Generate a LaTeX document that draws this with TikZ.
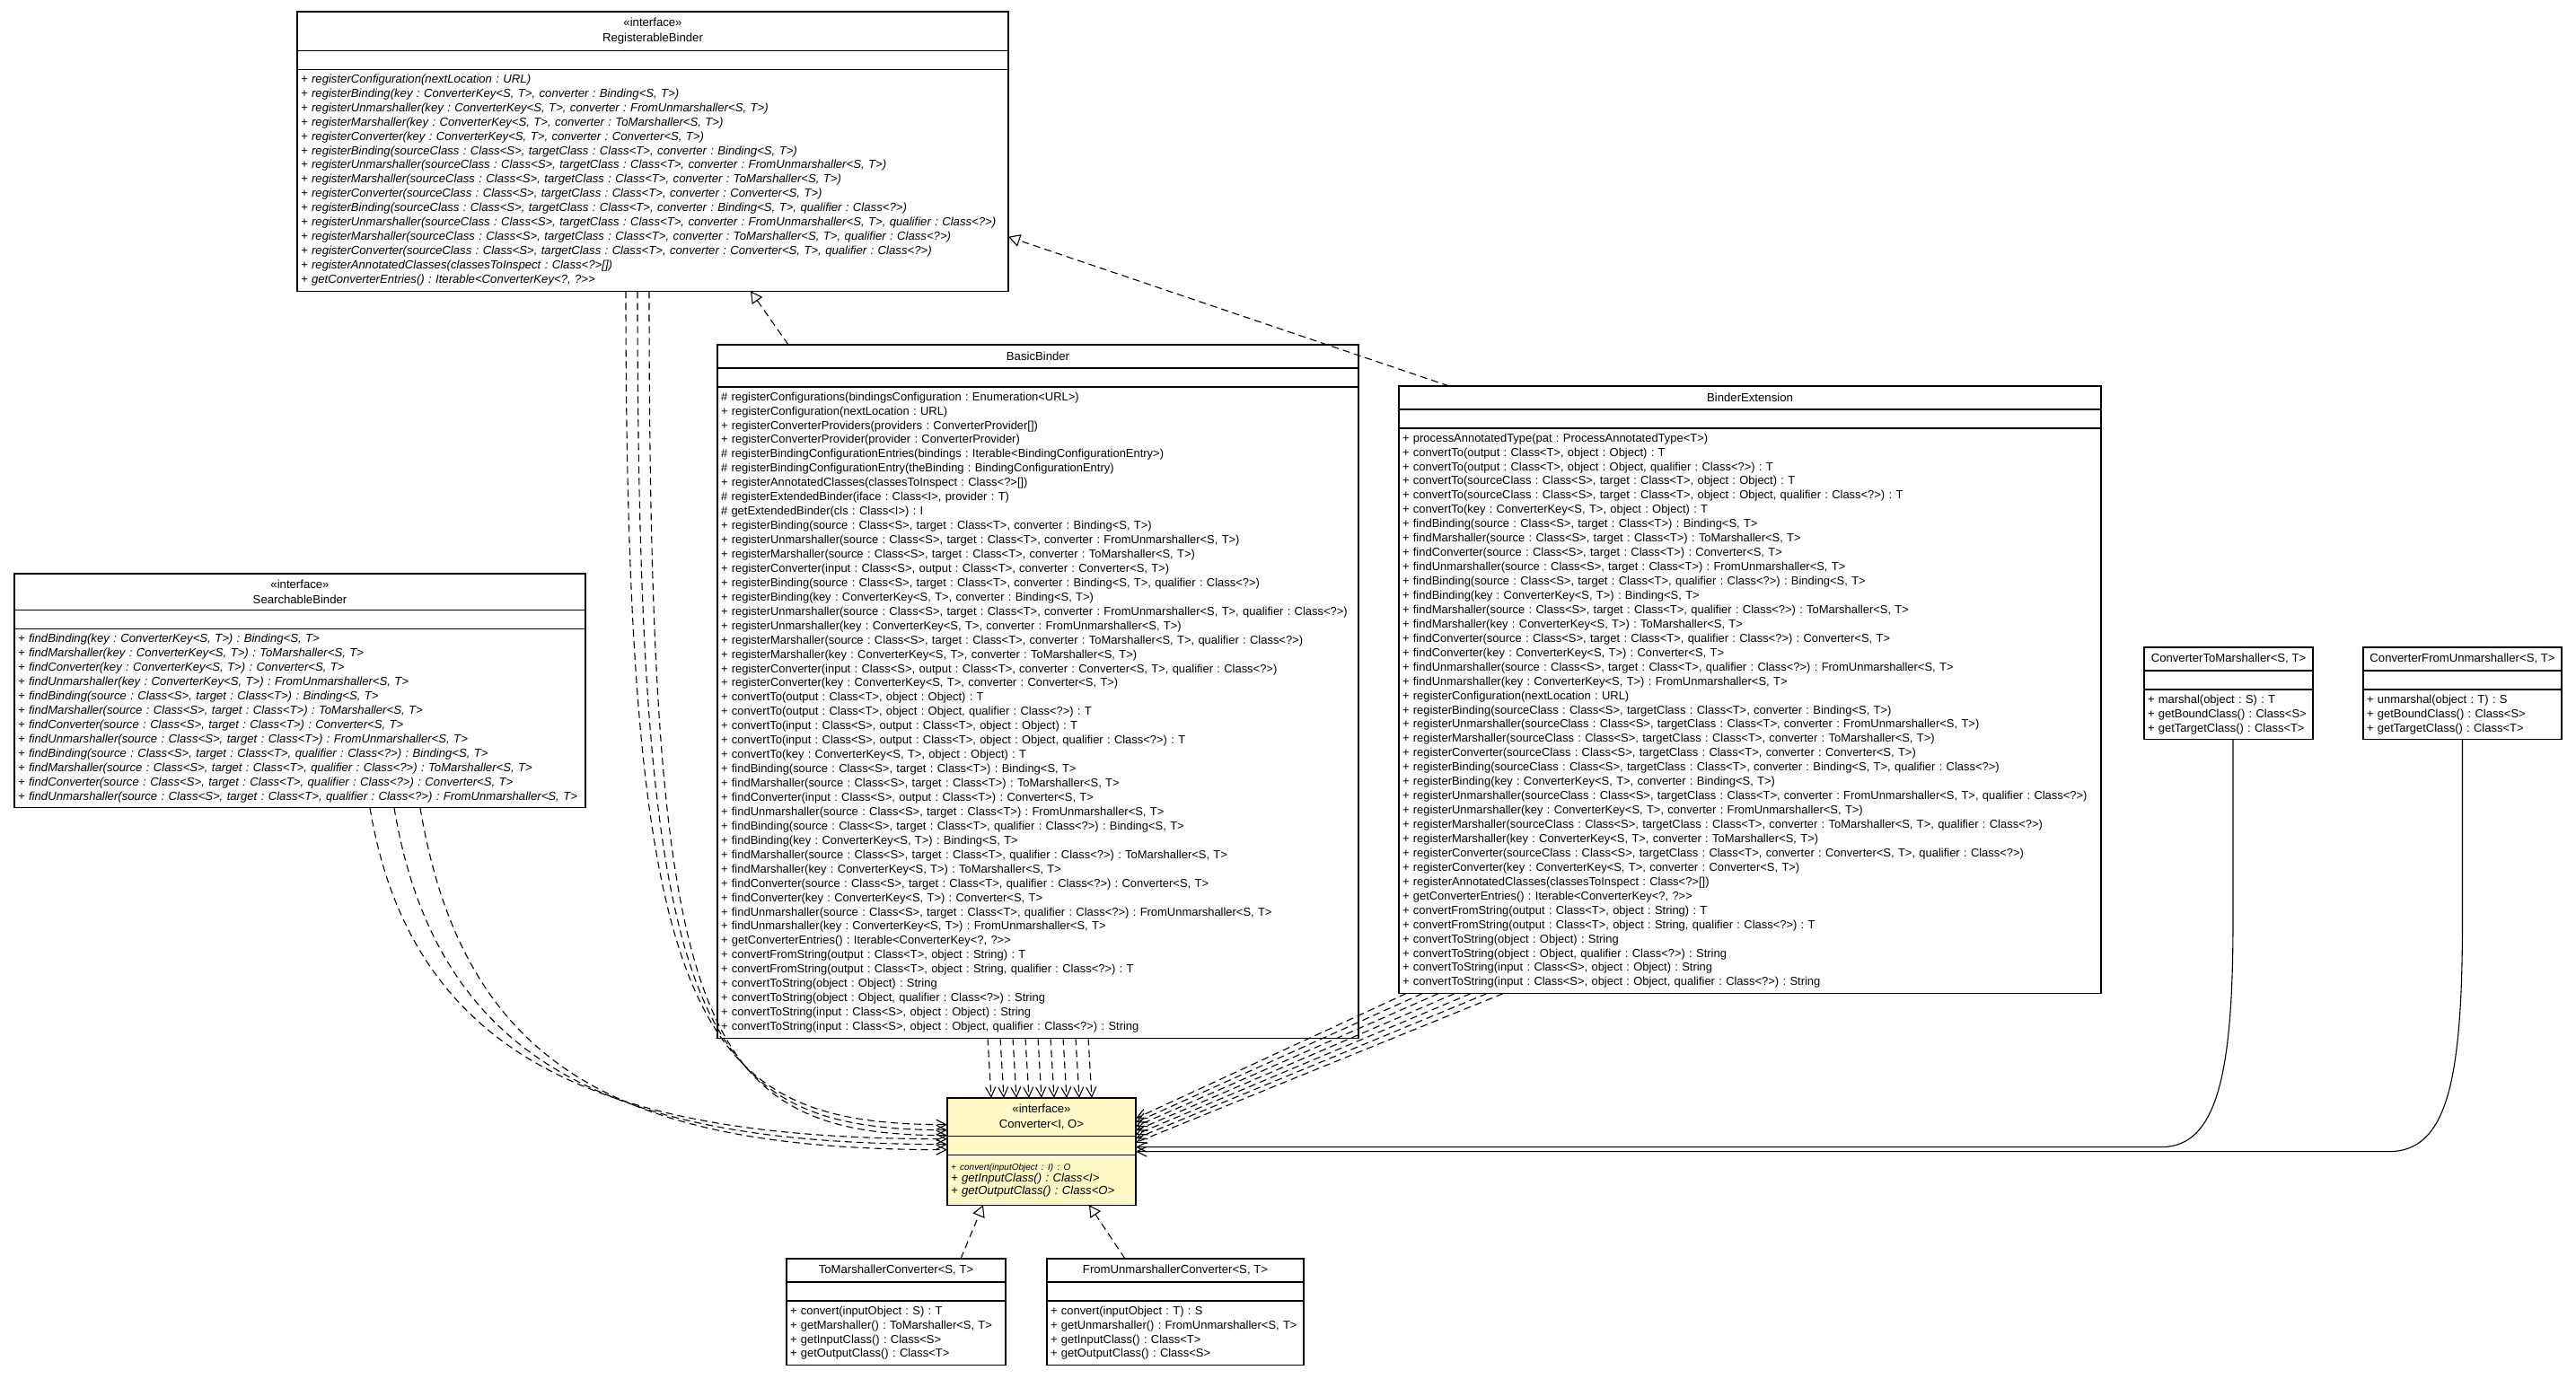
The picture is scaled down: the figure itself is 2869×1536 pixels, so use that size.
\documentclass[tikz,border=0pt]{standalone}
\usepackage{fontspec}
\setmainfont{Liberation Sans}
\usetikzlibrary{arrows.meta,positioning,calc}
\definecolor{convfill}{HTML}{FFF9C8}
\frenchspacing
\tikzset{
  classfill/.style={fill=white},
  classbox/.style={draw,line width=1.1bp,outer sep=0pt,classfill},
  classhead/.style={classbox,align=center,inner ysep=7bp,minimum height=26bp,
                    font=\fontsize{13.2}{17}\selectfont},
  classattr/.style={classbox,minimum height=21bp,inner sep=0pt},
  classops/.style={classbox,align=left,inner xsep=4bp,inner ysep=4bp,
                   font=\fontsize{13}{16}\selectfont},
  depend/.style={line width=1.1bp,dash pattern=on 8bp off 5bp,
                 -{Straight Barb[length=11bp,width=11bp]}},
  realize/.style={line width=1.1bp,dash pattern=on 8bp off 5bp,
                  -{Triangle[open,length=13bp,width=14bp]}},
  assoc/.style={line width=1.1bp,-{Straight Barb[length=11bp,width=11bp]}}
}
% class box: name, corner, width, head text, operations
\newcommand{\umlclass}[6][]{%
  \pgfmathsetlengthmacro{\opswidth}{#4-8bp}%
  \node[classhead,minimum width=#4,anchor=north west] (#2) at #3 {#5};
  \node[classattr,minimum width=#4,below=0pt of #2] (#2 attr) {};
  \node[classops,text width=\opswidth,below=0pt of #2 attr,#1] (#2 ops)
       {\begin{tabular}{@{}l@{}}#6\end{tabular}};
}

\begin{document}
\begin{tikzpicture}[x=1bp,y=-1bp]
  \fill[white] (0,0) rectangle (2869,1536);
  \useasboundingbox (0,0) rectangle (2869,1536);

  % Interfaces
  \umlclass[font=\fontsize{13.2}{16}\selectfont\itshape]{rb}{(331,13)}{792bp}
    {«interface»\\RegisterableBinder}
    {+ registerConfiguration(nextLocation : URL)\\
     + registerBinding(key : ConverterKey<S, T>, converter : Binding<S, T>)\\
     + registerUnmarshaller(key : ConverterKey<S, T>, converter : FromUnmarshaller<S, T>)\\
     + registerMarshaller(key : ConverterKey<S, T>, converter : ToMarshaller<S, T>)\\
     + registerConverter(key : ConverterKey<S, T>, converter : Converter<S, T>)\\
     + registerBinding(sourceClass : Class<S>, targetClass : Class<T>, converter : Binding<S, T>)\\
     + registerUnmarshaller(sourceClass : Class<S>, targetClass : Class<T>, converter : FromUnmarshaller<S, T>)\\
     + registerMarshaller(sourceClass : Class<S>, targetClass : Class<T>, converter : ToMarshaller<S, T>)\\
     + registerConverter(sourceClass : Class<S>, targetClass : Class<T>, converter : Converter<S, T>)\\
     + registerBinding(sourceClass : Class<S>, targetClass : Class<T>, converter : Binding<S, T>, qualifier : Class<?>)\\
     + registerUnmarshaller(sourceClass : Class<S>, targetClass : Class<T>, converter : FromUnmarshaller<S, T>, qualifier : Class<?>)\\
     + registerMarshaller(sourceClass : Class<S>, targetClass : Class<T>, converter : ToMarshaller<S, T>, qualifier : Class<?>)\\
     + registerConverter(sourceClass : Class<S>, targetClass : Class<T>, converter : Converter<S, T>, qualifier : Class<?>)\\
     + registerAnnotatedClasses(classesToInspect : Class<?>[])\\
     + getConverterEntries() : Iterable<ConverterKey<?, ?>{}>}

  \umlclass[font=\fontsize{13.2}{16}\selectfont\itshape]{sb}{(16,639)}{636bp}
    {«interface»\\SearchableBinder}
    {+ findBinding(key : ConverterKey<S, T>) : Binding<S, T>\\
     + findMarshaller(key : ConverterKey<S, T>) : ToMarshaller<S, T>\\
     + findConverter(key : ConverterKey<S, T>) : Converter<S, T>\\
     + findUnmarshaller(key : ConverterKey<S, T>) : FromUnmarshaller<S, T>\\
     + findBinding(source : Class<S>, target : Class<T>) : Binding<S, T>\\
     + findMarshaller(source : Class<S>, target : Class<T>) : ToMarshaller<S, T>\\
     + findConverter(source : Class<S>, target : Class<T>) : Converter<S, T>\\
     + findUnmarshaller(source : Class<S>, target : Class<T>) : FromUnmarshaller<S, T>\\
     + findBinding(source : Class<S>, target : Class<T>, qualifier : Class<?>) : Binding<S, T>\\
     + findMarshaller(source : Class<S>, target : Class<T>, qualifier : Class<?>) : ToMarshaller<S, T>\\
     + findConverter(source : Class<S>, target : Class<T>, qualifier : Class<?>) : Converter<S, T>\\
     + findUnmarshaller(source : Class<S>, target : Class<T>, qualifier : Class<?>) : FromUnmarshaller<S, T>}

  % Binder classes
  \umlclass{bb}{(799,384)}{714bp}{BasicBinder}
    {\# registerConfigurations(bindingsConfiguration : Enumeration<URL>)\\
     + registerConfiguration(nextLocation : URL)\\
     + registerConverterProviders(providers : ConverterProvider[])\\
     + registerConverterProvider(provider : ConverterProvider)\\
     \# registerBindingConfigurationEntries(bindings : Iterable<BindingConfigurationEntry>)\\
     \# registerBindingConfigurationEntry(theBinding : BindingConfigurationEntry)\\
     + registerAnnotatedClasses(classesToInspect : Class<?>[])\\
     \# registerExtendedBinder(iface : Class<I>, provider : T)\\
     \# getExtendedBinder(cls : Class<I>) : I\\
     + registerBinding(source : Class<S>, target : Class<T>, converter : Binding<S, T>)\\
     + registerUnmarshaller(source : Class<S>, target : Class<T>, converter : FromUnmarshaller<S, T>)\\
     + registerMarshaller(source : Class<S>, target : Class<T>, converter : ToMarshaller<S, T>)\\
     + registerConverter(input : Class<S>, output : Class<T>, converter : Converter<S, T>)\\
     + registerBinding(source : Class<S>, target : Class<T>, converter : Binding<S, T>, qualifier : Class<?>)\\
     + registerBinding(key : ConverterKey<S, T>, converter : Binding<S, T>)\\
     + registerUnmarshaller(source : Class<S>, target : Class<T>, converter : FromUnmarshaller<S, T>, qualifier : Class<?>)\\
     + registerUnmarshaller(key : ConverterKey<S, T>, converter : FromUnmarshaller<S, T>)\\
     + registerMarshaller(source : Class<S>, target : Class<T>, converter : ToMarshaller<S, T>, qualifier : Class<?>)\\
     + registerMarshaller(key : ConverterKey<S, T>, converter : ToMarshaller<S, T>)\\
     + registerConverter(input : Class<S>, output : Class<T>, converter : Converter<S, T>, qualifier : Class<?>)\\
     + registerConverter(key : ConverterKey<S, T>, converter : Converter<S, T>)\\
     + convertTo(output : Class<T>, object : Object) : T\\
     + convertTo(output : Class<T>, object : Object, qualifier : Class<?>) : T\\
     + convertTo(input : Class<S>, output : Class<T>, object : Object) : T\\
     + convertTo(input : Class<S>, output : Class<T>, object : Object, qualifier : Class<?>) : T\\
     + convertTo(key : ConverterKey<S, T>, object : Object) : T\\
     + findBinding(source : Class<S>, target : Class<T>) : Binding<S, T>\\
     + findMarshaller(source : Class<S>, target : Class<T>) : ToMarshaller<S, T>\\
     + findConverter(input : Class<S>, output : Class<T>) : Converter<S, T>\\
     + findUnmarshaller(source : Class<S>, target : Class<T>) : FromUnmarshaller<S, T>\\
     + findBinding(source : Class<S>, target : Class<T>, qualifier : Class<?>) : Binding<S, T>\\
     + findBinding(key : ConverterKey<S, T>) : Binding<S, T>\\
     + findMarshaller(source : Class<S>, target : Class<T>, qualifier : Class<?>) : ToMarshaller<S, T>\\
     + findMarshaller(key : ConverterKey<S, T>) : ToMarshaller<S, T>\\
     + findConverter(source : Class<S>, target : Class<T>, qualifier : Class<?>) : Converter<S, T>\\
     + findConverter(key : ConverterKey<S, T>) : Converter<S, T>\\
     + findUnmarshaller(source : Class<S>, target : Class<T>, qualifier : Class<?>) : FromUnmarshaller<S, T>\\
     + findUnmarshaller(key : ConverterKey<S, T>) : FromUnmarshaller<S, T>\\
     + getConverterEntries() : Iterable<ConverterKey<?, ?>{}>\\
     + convertFromString(output : Class<T>, object : String) : T\\
     + convertFromString(output : Class<T>, object : String, qualifier : Class<?>) : T\\
     + convertToString(object : Object) : String\\
     + convertToString(object : Object, qualifier : Class<?>) : String\\
     + convertToString(input : Class<S>, object : Object) : String\\
     + convertToString(input : Class<S>, object : Object, qualifier : Class<?>) : String}

  \umlclass{be}{(1558,430)}{782bp}{BinderExtension}
    {+ processAnnotatedType(pat : ProcessAnnotatedType<T>)\\
     + convertTo(output : Class<T>, object : Object) : T\\
     + convertTo(output : Class<T>, object : Object, qualifier : Class<?>) : T\\
     + convertTo(sourceClass : Class<S>, target : Class<T>, object : Object) : T\\
     + convertTo(sourceClass : Class<S>, target : Class<T>, object : Object, qualifier : Class<?>) : T\\
     + convertTo(key : ConverterKey<S, T>, object : Object) : T\\
     + findBinding(source : Class<S>, target : Class<T>) : Binding<S, T>\\
     + findMarshaller(source : Class<S>, target : Class<T>) : ToMarshaller<S, T>\\
     + findConverter(source : Class<S>, target : Class<T>) : Converter<S, T>\\
     + findUnmarshaller(source : Class<S>, target : Class<T>) : FromUnmarshaller<S, T>\\
     + findBinding(source : Class<S>, target : Class<T>, qualifier : Class<?>) : Binding<S, T>\\
     + findBinding(key : ConverterKey<S, T>) : Binding<S, T>\\
     + findMarshaller(source : Class<S>, target : Class<T>, qualifier : Class<?>) : ToMarshaller<S, T>\\
     + findMarshaller(key : ConverterKey<S, T>) : ToMarshaller<S, T>\\
     + findConverter(source : Class<S>, target : Class<T>, qualifier : Class<?>) : Converter<S, T>\\
     + findConverter(key : ConverterKey<S, T>) : Converter<S, T>\\
     + findUnmarshaller(source : Class<S>, target : Class<T>, qualifier : Class<?>) : FromUnmarshaller<S, T>\\
     + findUnmarshaller(key : ConverterKey<S, T>) : FromUnmarshaller<S, T>\\
     + registerConfiguration(nextLocation : URL)\\
     + registerBinding(sourceClass : Class<S>, targetClass : Class<T>, converter : Binding<S, T>)\\
     + registerUnmarshaller(sourceClass : Class<S>, targetClass : Class<T>, converter : FromUnmarshaller<S, T>)\\
     + registerMarshaller(sourceClass : Class<S>, targetClass : Class<T>, converter : ToMarshaller<S, T>)\\
     + registerConverter(sourceClass : Class<S>, targetClass : Class<T>, converter : Converter<S, T>)\\
     + registerBinding(sourceClass : Class<S>, targetClass : Class<T>, converter : Binding<S, T>, qualifier : Class<?>)\\
     + registerBinding(key : ConverterKey<S, T>, converter : Binding<S, T>)\\
     + registerUnmarshaller(sourceClass : Class<S>, targetClass : Class<T>, converter : FromUnmarshaller<S, T>, qualifier : Class<?>)\\
     + registerUnmarshaller(key : ConverterKey<S, T>, converter : FromUnmarshaller<S, T>)\\
     + registerMarshaller(sourceClass : Class<S>, targetClass : Class<T>, converter : ToMarshaller<S, T>, qualifier : Class<?>)\\
     + registerMarshaller(key : ConverterKey<S, T>, converter : ToMarshaller<S, T>)\\
     + registerConverter(sourceClass : Class<S>, targetClass : Class<T>, converter : Converter<S, T>, qualifier : Class<?>)\\
     + registerConverter(key : ConverterKey<S, T>, converter : Converter<S, T>)\\
     + registerAnnotatedClasses(classesToInspect : Class<?>[])\\
     + getConverterEntries() : Iterable<ConverterKey<?, ?>{}>\\
     + convertFromString(output : Class<T>, object : String) : T\\
     + convertFromString(output : Class<T>, object : String, qualifier : Class<?>) : T\\
     + convertToString(object : Object) : String\\
     + convertToString(object : Object, qualifier : Class<?>) : String\\
     + convertToString(input : Class<S>, object : Object) : String\\
     + convertToString(input : Class<S>, object : Object, qualifier : Class<?>) : String}

  % Marshaller adapters
  \umlclass{ctm}{(2388,721)}{188bp}{ConverterToMarshaller<S, T>}
    {+ marshal(object : S) : T\\
     + getBoundClass() : Class<S>\\
     + getTargetClass() : Class<T>}
  \umlclass{cfu}{(2632,721)}{221bp}{ConverterFromUnmarshaller<S, T>}
    {+ unmarshal(object : T) : S\\
     + getBoundClass() : Class<S>\\
     + getTargetClass() : Class<T>}

  % Converter interface
  \begin{scope}[classfill/.style={fill=convfill}]
    \umlclass[font=\fontsize{13.2}{14}\selectfont\itshape,minimum height=56bp]{conv}{(1055,1223)}{210bp}
      {«interface»\\Converter<I, O>}
      {{\fontsize{10}{12}\selectfont + convert(inputObject : I) : O}\\
       + getInputClass() : Class<I>\\
       + getOutputClass() : Class<O>}
  \end{scope}

  % Converters
  \umlclass{tmc}{(876,1402)}{244bp}{ToMarshallerConverter<S, T>}
    {+ convert(inputObject : S) : T\\
     + getMarshaller() : ToMarshaller<S, T>\\
     + getInputClass() : Class<S>\\
     + getOutputClass() : Class<T>}
  \umlclass{fuc}{(1166,1402)}{286bp}{FromUnmarshallerConverter<S, T>}
    {+ convert(inputObject : T) : S\\
     + getUnmarshaller() : FromUnmarshaller<S, T>\\
     + getInputClass() : Class<T>\\
     + getOutputClass() : Class<S>}

  % Realizations
  \draw[realize] ([xshift=-278bp]bb.north) -- ([xshift=109bp]rb ops.south);
  \draw[realize] ([xshift=-335bp]be.north) -- ([yshift=-63bp]rb ops.east);
  \draw[realize] ([xshift=72bp]tmc.north) -- ([xshift=-65bp]conv ops.south);
  \draw[realize] ([xshift=-56bp]fuc.north) -- ([xshift=53bp]conv ops.south);

  % Dependencies on Converter
  \foreach \dx/\dy in {-30bp/23bp,-17bp/17bp,-4bp/11bp}
    \draw[depend] ([xshift=\dx]rb ops.south) .. controls +(0,820) and +(-280,0) .. ([yshift=\dy]conv attr.west);
  \foreach \dx/\dy in {78bp/7bp,105bp/1bp,134bp/-5bp}
    \draw[depend] ([xshift=\dx]sb ops.south) .. controls +(50,300) and +(-350,0) .. ([yshift=\dy]conv attr.west);
  \foreach \i in {0,...,8}
    \draw[depend] ([xshift=\i*14bp-56bp]bb ops.south) -- ([xshift=\i*14bp-56bp]conv.north);
  \foreach \i in {0,...,6}
    \draw[depend] ([xshift=8bp+\i*18bp]be ops.south west) -- ([yshift=30bp-\i*4.5bp]conv attr.east);

  % Associations
  \draw[assoc] ([xshift=5bp]ctm ops.south) -- ++(0,200)
     .. controls +(0,170) and +(63,0) .. ($(ctm ops.south |- conv attr.east)+(-75,2)$)
     -- ([yshift=-2bp]conv attr.east);
  \draw[assoc] (cfu ops.south) -- ++(0,200)
     .. controls +(0,180) and +(65,0) .. ($(cfu ops.south |- conv attr.east)+(-82,7)$)
     -- ([yshift=-7bp]conv attr.east);
\end{tikzpicture}
\end{document}
